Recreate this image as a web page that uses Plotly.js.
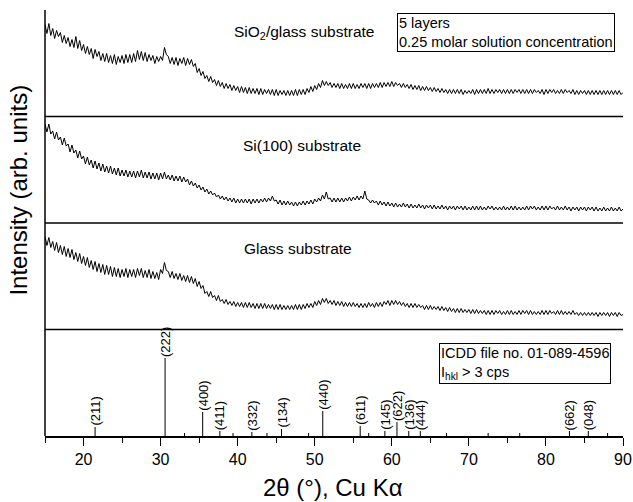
<!DOCTYPE html>
<html><head><meta charset="utf-8">
<script src="https://cdn.plot.ly/plotly-3.0.1.min.js"></script>
<style>body{margin:0;background:#fff}#c{width:633px;height:502px}</style>
</head><body><div id="c"></div>
<script>
// 2θ sampling grid of the scans (15° ... 90°)
const twoThetaStart = 15, twoThetaStep = 0.25;

// SiO2/glass substrate scan (arb. units), one row of four values per degree
const sio2Glass = [
 92,83,93,81, 88,78,86,80, 84,74,81,73, 79,70,77,69, 80,68,76,66, 72,63,70,62, 68,58,67,60, 65,56,63,55, 63,54,61,53, 62,52,60,54,
 61,53,62,54, 62,54,63,55, 66,57,65,56, 64,55,62,56, 61,53,60,55, 60,56,69,62, 60,53,59,52, 59,51,58,53, 59,51,58,52, 57,50,53,44,
 48,41,45,38, 41,35,40,34, 37,31,36,30, 34,28,33,28, 32,26,31,26, 30,24,30,24, 29,23,29,23, 28,23,28,22, 28,22,27,23, 27,22,27,21,
 27,21,26,22, 26,21,26,21, 26,21,27,21, 27,22,27,22, 28,24,30,25, 31,27,33,29, 36,31,35,31, 34,29,33,29, 33,28,33,28, 32,28,33,28,
 33,28,32,28, 33,29,33,28, 33,28,33,29, 33,29,34,29, 34,30,34,30, 35,30,34,31, 33,29,33,29, 32,28,32,27, 31,27,31,26, 30,26,30,26,
 29,25,29,25, 28,24,28,24, 27,23,27,23, 27,23,27,23, 27,22,26,23, 26,23,27,22, 27,23,27,23, 27,23,28,23, 27,23,27,24, 27,23,27,23,
 27,23,27,23, 27,24,27,23, 27,23,27,23, 27,23,27,24, 26,23,27,22, 27,23,27,24, 27,23,26,23, 27,23,27,24, 26,23,27,22, 26,22,26,23,
 26,22,26,22, 26,22,26,22, 26,22,26,22, 26,22,26,22, 26,22,26,22, 24];

// Si(100) substrate scan
const si100 = [
 99,91,99,89, 92,84,91,83, 86,78,85,77, 79,71,78,70, 73,65,72,64, 67,59,66,58, 63,55,62,54, 60,52,59,51, 57,50,57,49, 55,48,55,47,
 53,47,53,46, 52,46,52,45, 52,46,53,45, 51,45,51,44, 50,44,50,43, 50,44,51,44, 48,43,48,42, 47,42,47,41, 46,41,44,38, 42,37,40,35,
 38,33,36,31, 34,29,32,28, 30,26,28,24, 27,23,26,22, 25,21,25,20, 24,20,24,20, 24,20,24,19, 24,20,24,20, 24,21,25,21, 25,22,27,22,
 23,19,23,18, 22,18,22,18, 21,17,21,17, 21,18,22,18, 22,19,23,19, 24,21,25,22, 28,24,31,24, 25,21,25,21, 25,21,25,21, 25,22,26,22,
 26,23,27,23, 27,24,32,24, 23,20,23,20, 22,18,22,18, 21,17,21,17, 20,16,20,16, 19,16,20,16, 19,15,19,15, 18,15,19,15, 18,14,18,15,
 18,14,18,14, 17,14,18,14, 17,13,17,14, 17,13,17,14, 17,13,17,13, 16,13,17,13, 17,13,17,13, 16,13,17,14, 17,13,16,13, 16,13,17,13,
 16,13,17,13, 17,13,16,13, 16,13,17,13, 17,14,17,13, 16,13,17,13, 17,13,17,14, 16,13,17,13, 16,13,17,13, 16,12,16,13, 16,12,16,13,
 16,12,16,13, 16,12,16,12, 15,12,16,12, 15,12,16,12, 15,12,16,12, 14];

// Glass substrate scan
const glass = [
 93,84,92,82, 88,79,87,77, 84,75,83,73, 81,72,80,70, 77,68,76,66, 73,64,72,62, 69,60,68,58, 66,57,65,55, 64,55,63,53, 62,53,61,52,
 60,53,61,52, 60,53,60,52, 61,54,61,52, 59,52,60,51, 58,51,57,50, 60,56,67,59, 58,52,58,51, 56,50,56,49, 54,48,54,47, 53,46,51,43,
 48,41,44,36, 38,33,38,32, 34,29,34,28, 30,26,30,25, 28,24,28,23, 27,23,27,22, 27,22,27,22, 26,21,26,21, 26,21,26,21, 25,21,25,20,
 25,20,25,20, 24,20,24,20, 24,20,25,20, 25,20,25,21, 26,22,26,22, 28,24,29,25, 31,27,31,26, 29,25,29,24, 28,24,28,23, 27,23,27,23,
 27,23,26,22, 26,22,26,22, 27,23,26,22, 27,23,27,23, 28,25,29,24, 29,25,29,25, 28,24,27,23, 26,22,26,22, 26,22,25,22, 24,20,24,20,
 24,20,23,20, 23,19,23,19, 22,18,22,18, 21,17,21,17, 21,17,20,17, 20,16,20,16, 20,16,19,16, 19,15,19,15, 19,15,19,16, 19,15,18,15,
 19,15,19,15, 18,15,19,15, 19,16,19,15, 19,15,18,15, 18,15,19,15, 19,15,19,16, 18,15,19,15, 19,15,18,15, 18,15,19,15, 17,14,17,14,
 17,14,17,14, 17,14,17,13, 17,14,17,14, 17,13,17,14, 17,13,17,14, 15];

// ICDD 01-089-4596 reference reflections
const refPos    = [21.5, 30.58, 35.46, 37.69, 41.84, 45.69, 51.04, 55.9, 59.1, 60.67, 62.2, 63.7, 83.05, 85.5];
const refInt    = [9, 78, 24, 5, 4, 7, 25, 10, 5, 14, 5, 5, 5, 5];
const refLabels = ['(211)','(222)','(400)','(411)','(332)','(134)','(440)','(611)','(145)','(622)','(136)','(444)','(662)','(048)'];
const weakPos = [33.1, 39.4, 43.8, 49.2, 57.0, 67.1, 72.5, 76.6, 88.0];
const weakInt = [3, 3, 3, 3, 3, 3, 3, 3, 3];

const FONT = 'Liberation Sans, Arial, sans-serif';
const grid = arr => arr.map((_, i) => twoThetaStart + i * twoThetaStep);

const scanLine = {color: '#000', width: 1};
const traces = [
  {x: grid(glass), y: glass, xaxis: 'x', yaxis: 'y2', type: 'scatter', mode: 'lines', line: scanLine, hoverinfo: 'skip'},
  {x: grid(si100), y: si100, xaxis: 'x', yaxis: 'y3', type: 'scatter', mode: 'lines', line: scanLine, hoverinfo: 'skip'},
  {x: grid(sio2Glass), y: sio2Glass, xaxis: 'x', yaxis: 'y4', type: 'scatter', mode: 'lines', line: scanLine, hoverinfo: 'skip'}
];
// stick pattern
const sx = [], sy = [];
refPos.concat(weakPos).forEach((p, i) => {
  const h = i < refPos.length ? refInt[i] : weakInt[i - refPos.length];
  sx.push(p, p, null); sy.push(0, h, null);
});
traces.push({x: sx, y: sy, xaxis: 'x', yaxis: 'y', type: 'scatter', mode: 'lines', line: {color: '#000', width: 1}, hoverinfo: 'skip'});

const annotations = refPos.map((p, i) => ({
  x: p, y: refInt[i], xref: 'x', yref: 'y', text: refLabels[i], textangle: -90,
  showarrow: false, xanchor: 'center', yanchor: 'bottom', borderpad: 0,
  font: {family: FONT, size: 13, color: '#000'}
}));
const txt = (text, x, y, size, extra) => Object.assign({text, x, y, xref: 'paper', yref: 'paper', showarrow: false,
  xanchor: 'center', yanchor: 'middle',
  font: {family: FONT, size, color: '#000'}}, extra || {});
annotations.push(
  txt('SiO<sub>2</sub>/glass substrate', 0.448, 0.948, 15.5),
  txt('Si(100) substrate', 0.444, 0.683, 15.5),
  txt('Glass substrate', 0.437, 0.439, 15.5),
  txt('5 layers<br>0.25 molar solution concentration', 0.6087, 0.993, 14.5,
      {xanchor: 'left', yanchor: 'top', align: 'left', bordercolor: '#000', borderwidth: 1, borderpad: 1}),
  txt('ICDD file no. 01-089-4596<br>I<sub>hkl</sub> > 3 cps', 0.681, 0.218, 14.5,
      {xanchor: 'left', yanchor: 'top', align: 'left', bordercolor: '#000', borderwidth: 1, borderpad: 1}),
  txt('2θ (°), Cu Kα', 0.498, -0.122, 24),
  txt('Intensity (arb. units)', -0.046, 0.577, 24, {textangle: -90})
);

const hid = d => ({domain: d, range: [0, 106.5], visible: false, fixedrange: true});
const sep = y => ({type: 'line', xref: 'paper', yref: 'paper', x0: 0, x1: 1, y0: y, y1: y, line: {color: '#000', width: 1.5}});
const layout = {
  width: 633, height: 502,
  margin: {l: 45, r: 10, t: 10, b: 66},
  paper_bgcolor: '#fff', plot_bgcolor: '#fff',
  showlegend: false,
  xaxis: {domain: [0, 1], range: [15, 90], anchor: 'y', showgrid: false, zeroline: false,
    showline: true, linecolor: '#000', linewidth: 1.5,
    ticks: 'outside', ticklen: 8, tickwidth: 1, tickcolor: '#000', tick0: 0, dtick: 10,
    minor: {tick0: 0, dtick: 5, ticks: 'outside', ticklen: 5, tickwidth: 1, tickcolor: '#000'},
    tickfont: {family: FONT, size: 16, color: '#000'}},
  yaxis: hid([0, 0.25]),
  yaxis2: hid([0.25, 0.5]),
  yaxis3: hid([0.5, 0.75]),
  yaxis4: hid([0.75, 1]),
  shapes: [
    {type: 'line', xref: 'paper', yref: 'paper', x0: 0, x1: 0, y0: 0, y1: 1, line: {color: '#000', width: 1.5}},
    sep(0.25), sep(0.5), sep(0.75)
  ],
  annotations
};
Plotly.newPlot('c', traces, layout, {staticPlot: true, displayModeBar: false});
</script>
</body></html>
